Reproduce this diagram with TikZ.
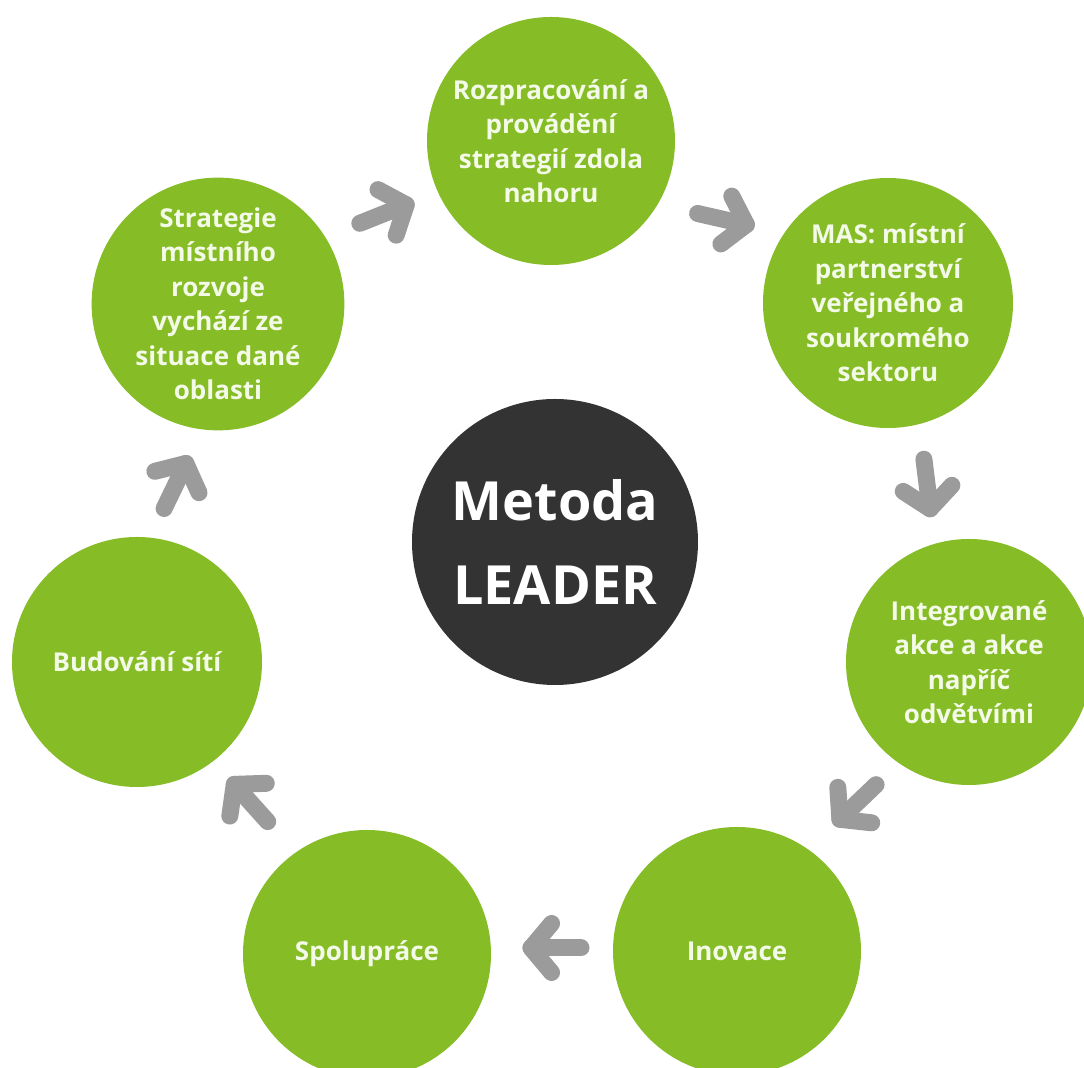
\documentclass[tikz,border=0pt]{standalone}
\usepackage{fontspec}
\setmainfont{Open Sans}
\usetikzlibrary{calc}
\definecolor{leafgreen}{RGB}{134,188,37}
\definecolor{hubgray}{RGB}{51,51,51}
\definecolor{arrowgray}{RGB}{155,155,155}
\definecolor{creamwhite}{RGB}{243,250,232}
\tikzset{topic/.style = {circle, fill=leafgreen, text=creamwhite, inner sep=0pt, align=center,
                         font=\bfseries\fontsize{13}{17.25}\selectfont}}
\tikzset{hub/.style = {circle, fill=hubgray, text=white, inner sep=0pt, align=center,
                       font=\bfseries\fontsize{27}{42}\selectfont}}
\tikzset{flow/.style = {draw=arrowgray, line width=8.5pt, line cap=round, line join=round}}
\newcommand{\flowarrow}[2]{%
  \draw[flow] (#1) -- (#2);
  \draw[flow] ($(#2)!16pt!50:(#1)$) -- (#2) -- ($(#2)!16pt!-50:(#1)$);}

\begin{document}
\begin{tikzpicture}[x=0.5pt, y=-0.5pt]
                    \path[fill=white, use as bounding box] (0,0) rectangle (1084,1068);

                    \node[hub, minimum size=143pt] (leader) at (555,542) {Metoda\\LEADER};

                    \node[topic, minimum size=124pt] (rozp) at (551,141) {Rozpracování a\\provádění\\strategií zdola\\nahoru};
                    \node[topic, minimum size=125pt] (mas) at (888,303) {MAS: místní\\partnerství\\veřejného a\\soukromého\\sektoru};
                    \node[topic, minimum size=123pt] (integ) at (969,662) {Integrované\\akce a akce\\napříč\\odvětvími};
                    \node[topic, minimum size=124pt] (inov) at (737,951) {Inovace};
                    \node[topic, minimum size=124pt] (spol) at (367,954) {Spolupráce};
                    \node[topic, minimum size=125pt] (bud) at (137,662) {Budování sítí};
                    \node[topic, minimum size=124pt] (strat) at (218,304) {Strategie\\místního\\rozvoje\\vychází ze\\situace dané\\oblasti};

                    \coordinate (s1) at (359.8,223.3); \coordinate (t1) at (406.2,204.8);
                    \coordinate (s2) at (697.6,213.5); \coordinate (t2) at (746.4,224.6);
                    \coordinate (s3) at (923.9,459.2); \coordinate (t3) at (930.1,508.8);
                    \coordinate (s4) at (876.1,784.7); \coordinate (t4) at (839.9,819.3);
                    \coordinate (s5) at (581,948);     \coordinate (t5) at (531,948);
                    \coordinate (s6) at (267.7,821.6); \coordinate (t6) at (234.3,784.4);
                    \coordinate (s7) at (164.1,508.5); \coordinate (t7) at (185.9,463.5);

                    % Arrow from strat to rozp
                    \flowarrow{s1}{t1}

                    % Arrow from rozp to mas
                    \flowarrow{s2}{t2}

                    % Arrow from mas to integ
                    \flowarrow{s3}{t3}

                    % Arrow from integ to inov
                    \flowarrow{s4}{t4}

                    % Arrow from inov to spol
                    \flowarrow{s5}{t5}

                    % Arrow from spol to bud
                    \flowarrow{s6}{t6}

                    % Arrow from bud to strat
                    \flowarrow{s7}{t7}
                \end{tikzpicture}
\end{document}
